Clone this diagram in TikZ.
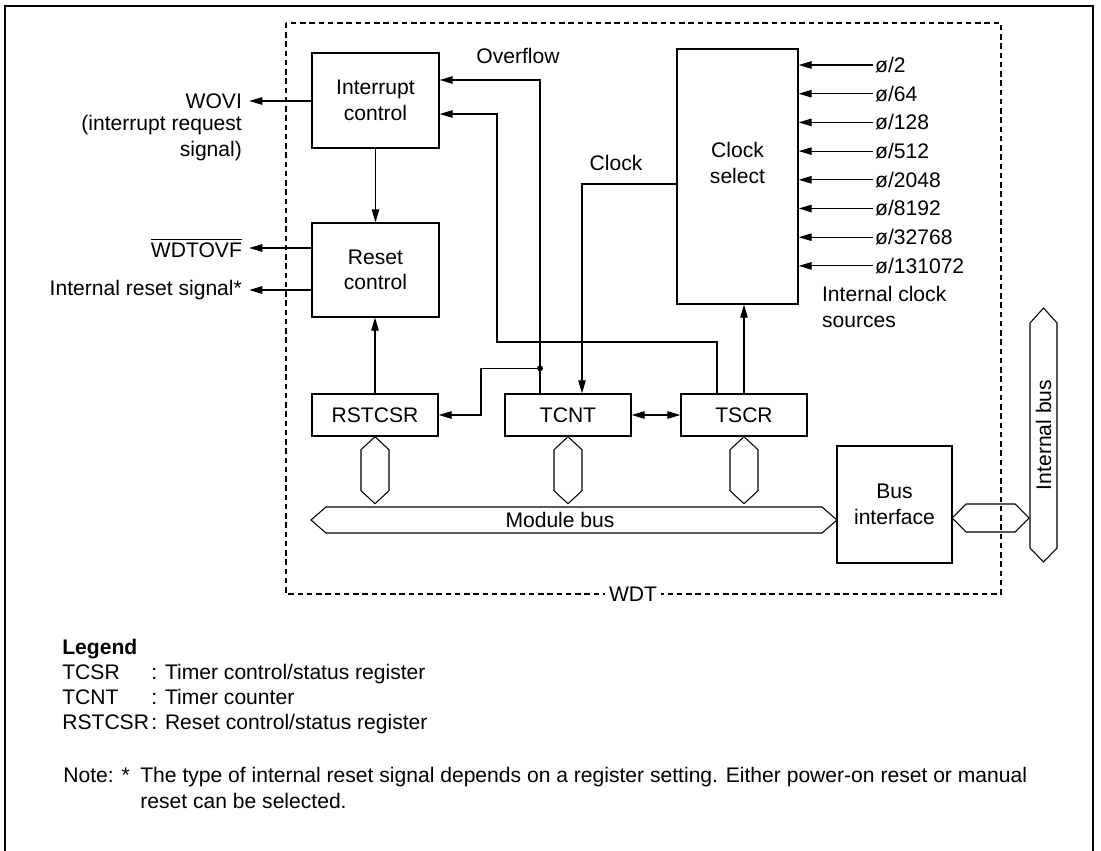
\documentclass[tikz,border=0pt]{standalone}
\usepackage{fontspec}
\setmainfont{Liberation Sans}
\usepackage{tikz}
\usetikzlibrary{arrows.meta,positioning}

\tikzset{
  blk/.style={draw, line width=0.8pt, inner sep=0pt, align=center},
  sig/.style={line width=0.6pt},
  lbl/.style={inner sep=1pt, align=center},
  wdtbox/.style={line width=0.6pt, dash pattern=on 0.11cm off 0.075cm},
}

\begin{document}
\begin{tikzpicture}[x=0.02cm, y=-0.02cm, font=\fontsize{12}{14.6}\selectfont,
    >={Triangle[length=2.6mm,width=1.5mm]}]
        \useasboundingbox (0,0) rectangle (1101,851);
        \draw[line width=0.8pt] (5,851) -- (5,6) -- (1093,6) -- (1093,851);
        \draw[wdtbox] (286,23) rectangle (1001,594);
        \node[fill=white, inner sep=2pt] (wdt) at (633,594) {WDT};

        % blocks
        \node[blk, minimum width=2.54cm, minimum height=1.9cm] (intc) at (375.5,100.5) {Interrupt\\control};
        \node[blk, minimum width=2.54cm, minimum height=1.88cm] (rstc) at (375.5,270) {Reset\\control};
        \node[blk, minimum width=2.42cm, minimum height=5.1cm] (clksel) at (737.5,176.5) {};
        \node[lbl] (clksellab) at ([yshift=0.27cm]clksel.center) {Clock\\select};
        \node[blk, minimum width=2.52cm, minimum height=0.84cm] (rstcsr) at (375,415) {RSTCSR};
        \node[blk, minimum width=2.52cm, minimum height=0.84cm] (tcnt) at (568,415) {TCNT};
        \node[blk, minimum width=2.52cm, minimum height=0.84cm] (tscr) at (744,415) {TSCR};
        \node[blk, minimum width=2.3cm, minimum height=2.34cm] (busif) at (894.5,504.5) {Bus\\interface};

        % outputs
        \node[lbl, anchor=east] (wovi) at (244,101) {WOVI};
        \node[lbl, anchor=north east, align=right] (wovitxt) at (244,113) {(interrupt request\\signal)};
        \node[lbl, anchor=east] (wdtovf) at (244,248) {$\overline{\mbox{WDTOVF}}$};
        \node[lbl, anchor=east] (intrst) at (244,290) {Internal reset signal*};
        \draw[sig,->,shorten >=3pt] (intc.west |- wovi) -- (wovi);
        \draw[sig,->,shorten >=3pt] (rstc.west |- wdtovf) -- (wdtovf);
        \draw[sig,->,shorten >=3pt] (rstc.west |- intrst) -- (intrst);

        % clock sources
        \foreach \d [count=\i from 0] in {2,64,128,512,2048,8192,32768,131072}
            {\node[lbl, anchor=west] (src\i) at (873,{65+28.7*\i}) {ø/\d};
             \draw[sig,->] (src\i.west) -- (clksel.east |- src\i.west);}
        \node[lbl, anchor=north west, align=left] (srclab) at (820,284) {Internal clock\\sources};

        % internal connections
        \draw[sig,->] (intc.south) -- (intc.south |- rstc.north);
        \draw[sig,->] (rstcsr.north) -- (rstcsr.north |- rstc.south);
        \node[lbl] (ovflab) at (518,56) {Overflow};
        \draw[sig,->] ([xshift=-0.56cm]tcnt.north) |- ([yshift=0.41cm]intc.east);
        \coordinate (ovfdot) at ([xshift=-0.56cm,yshift=0.5cm]tcnt.north);
        \fill (ovfdot) circle (1.7pt);
        \draw[sig,->] (ovfdot) -- ++(-59,0) |- (rstcsr.east);
        \coordinate (fbk) at (497,342);
        \draw[sig,->] ([xshift=-0.54cm]tscr.north) |- (fbk) |- ([yshift=-0.27cm]intc.east);
        \node[lbl] (clklab) at (616,163) {Clock};
        \draw[sig,->] ([yshift=-0.15cm]clksel.west) -| ([xshift=0.28cm]tcnt.north);
        \draw[sig,->] (tscr.north) -- (tscr.north |- clksel.south);
        \draw[sig,<->] (tcnt.east) -- (tscr.west);

        % buses
        \foreach \n in {rstcsr,tcnt,tscr}
            {\draw[sig] (\n.south) -- ++(14,13) -- ++(0,41) -- ++(-14,13) -- ++(-14,-13) -- ++(0,-41) -- cycle;}
        \draw[sig] (311,520) -- (326,507) -- (822,507) -- (837,520) -- (822,533) -- (326,533) -- cycle;
        \node[lbl] (modbus) at (560,520) {Module bus};
        \draw[sig] (952,518) -- (966,504) -- (1015,504) -- (1029,518) -- (1015,532) -- (966,532) -- cycle;
        \draw[sig] (1043.5,308) -- (1057,323) -- (1057,548) -- (1043.5,562) -- (1030,548) -- (1030,323) -- cycle;
        \node[lbl, rotate=90] (intbus) at (1043.5,435) {Internal bus};

        % legend
        \node[anchor=base west, inner sep=0pt, font=\fontsize{12}{14.6}\selectfont\bfseries] (leg) at (62,654) {Legend};
        \node[anchor=base west, inner sep=0pt] (lg1) at (62,679) {TCSR};
        \node[anchor=base west, inner sep=0pt] (lg1t) at (151,679) {: Timer control/status register};
        \node[anchor=base west, inner sep=0pt] (lg2) at (62,704) {TCNT};
        \node[anchor=base west, inner sep=0pt] (lg2t) at (151,704) {: Timer counter};
        \node[anchor=base west, inner sep=0pt] (lg3) at (62,729) {RSTCSR};
        \node[anchor=base west, inner sep=0pt] (lg3t) at (151,729) {: Reset control/status register};
        \node[anchor=base west, inner sep=0pt] (note) at (63,782) {Note: *};
        \node[anchor=base west, inner sep=0pt] (note1) at (140,782) {The type of internal reset signal depends on a register setting. Either power-on reset or manual};
        \node[anchor=base west, inner sep=0pt] (note2) at (140,808) {reset can be selected.};
\end{tikzpicture}
\end{document}
